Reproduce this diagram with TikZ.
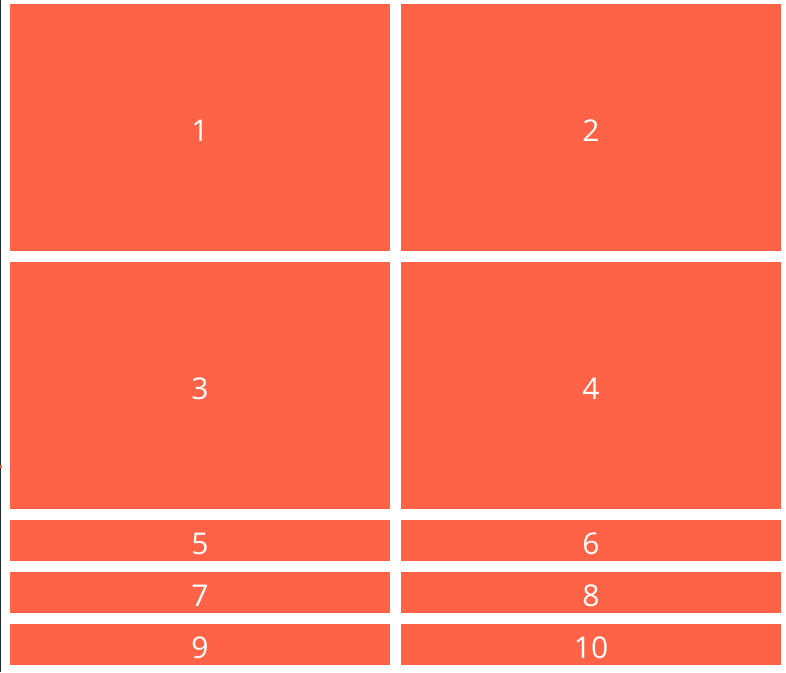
\documentclass[tikz,border=0pt]{standalone}
\usepackage{fontspec}
\setmainfont{Open Sans}
\definecolor{tomato}{HTML}{FF6347}
\definecolor{edgegray}{HTML}{1E2A30}
\tikzset{
	cell/.style = {fill=tomato, text=white, inner sep=0pt, minimum width=380pt,
		text height=27pt, text depth=0pt, font=\fontsize{30}{36}\selectfont},
	bigcell/.style = {cell, minimum height=247pt},
	smallcell/.style = {cell, minimum height=41pt}
}

\begin{document}
\begin{tikzpicture}[x = 1pt, y = -1pt]
	\useasboundingbox (0,0) rectangle (786,672);
	\fill [edgegray] (0,0) rectangle (1.3,672);
	\fill [tomato] (0,465) rectangle (1.5,467.5);
	% big rows
	\node [bigcell] (c1) at (200,127.5) {1};
	\node [bigcell] (c2) at (591,127.5) {2};
	\node [bigcell] (c3) at (200,385.5) {3};
	\node [bigcell] (c4) at (591,385.5) {4};
	% small rows
	\node [smallcell] (c5) at (200,540.5) {5};
	\node [smallcell] (c6) at (591,540.5) {6};
	\node [smallcell] (c7) at (200,592.5) {7};
	\node [smallcell] (c8) at (591,592.5) {8};
	\node [smallcell] (c9) at (200,644.5) {9};
	\node [smallcell] (c10) at (591,644.5) {10};
\end{tikzpicture}
\end{document}
